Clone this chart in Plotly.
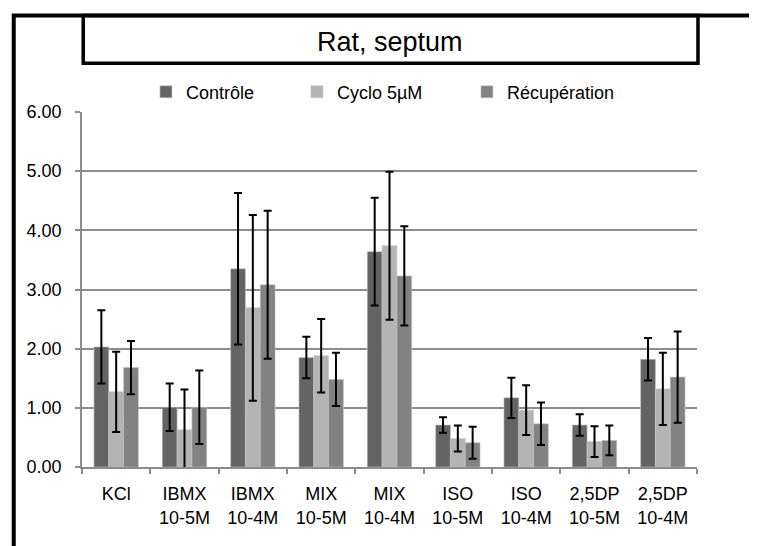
import plotly.graph_objects as go

categories = ["KCl", "IBMX<br>10-5M", "IBMX<br>10-4M", "MIX<br>10-5M", "MIX<br>10-4M",
              "ISO<br>10-5M", "ISO<br>10-4M", "2,5DP<br>10-5M", "2,5DP<br>10-4M"]

controle = [2.03, 1.01, 3.35, 1.85, 3.64, 0.71, 1.17, 0.71, 1.82]
controle_err = [0.62, 0.40, 1.28, 0.35, 0.91, 0.13, 0.34, 0.18, 0.36]

cyclo = [1.27, 0.63, 2.69, 1.88, 3.74, 0.48, 0.96, 0.43, 1.32]
cyclo_err = [0.68, 0.68, 1.57, 0.62, 1.25, 0.22, 0.42, 0.26, 0.61]

recup = [1.68, 1.01, 3.08, 1.48, 3.23, 0.41, 0.73, 0.45, 1.52]
recup_err = [0.45, 0.62, 1.25, 0.45, 0.84, 0.27, 0.36, 0.25, 0.77]

series = [
    ("Contrôle", controle, controle_err, "#646464", 106),
    ("Cyclo 5µM", cyclo, cyclo_err, "#b3b3b3", 125),
    ("Récupération", recup, recup_err, "#828282", 130),
]

FONT = "Liberation Sans, Arial, sans-serif"

fig = go.Figure()
for name, vals, errs, col, lw in series:
    fig.add_trace(go.Bar(
        name=name, x=categories, y=vals, legendwidth=lw,
        marker=dict(color=col, line=dict(color="#c4c4c4", width=0.6)),
        error_y=dict(type="data", array=errs, visible=True,
                     color="#000000", thickness=2, width=4),
    ))

fig.update_layout(
    width=749, height=538,
    margin=dict(l=74, r=60, t=104, b=79),
    paper_bgcolor="white", plot_bgcolor="white",
    barmode="group", bargap=0.35, bargroupgap=0,
    font=dict(family=FONT, size=18, color="#000000"),
    showlegend=True,
    legend=dict(orientation="h", x=0.104, xanchor="left", y=1.056, yanchor="middle",
                entrywidthmode="pixels",
                font=dict(family=FONT, size=18, color="#000000"),
                bgcolor="rgba(0,0,0,0)"),
    xaxis=dict(showline=True, linecolor="#8c8c8c", linewidth=1.5,
               ticks="outside", ticklen=5, tickcolor="#8c8c8c", tickwidth=1.5,
               tickson="boundaries", showgrid=False,
               tickfont=dict(family=FONT, size=18, color="#000000"),
               ticklabelstandoff=10),
    yaxis=dict(range=[0, 6], dtick=1, tickformat=".2f",
               showline=True, linecolor="#8c8c8c", linewidth=1.5,
               ticks="outside", ticklen=5, tickcolor="#8c8c8c", tickwidth=1.5,
               showgrid=True, gridcolor="#8c8c8c", gridwidth=1.5,
               zeroline=False,
               tickfont=dict(family=FONT, size=18, color="#000000"),
               ticklabelstandoff=10),
    shapes=[
        dict(type="path", xref="paper", yref="paper",
             path="M -0.111 -0.5 L -0.111 1.272 L 1.3 1.272",
             line=dict(color="#000000", width=4)),
        dict(type="rect", xref="paper", yref="paper",
             x0=0.002, x1=1.0016, y0=1.137, y1=1.272,
             line=dict(color="#000000", width=3.5)),
    ],
    annotations=[
        dict(text="Rat, septum", xref="paper", yref="paper", x=0.5, y=1.197,
             xanchor="center", yanchor="middle", showarrow=False,
             font=dict(family=FONT, size=27, color="#000000")),
    ],
)

fig.write_html("out.html")
